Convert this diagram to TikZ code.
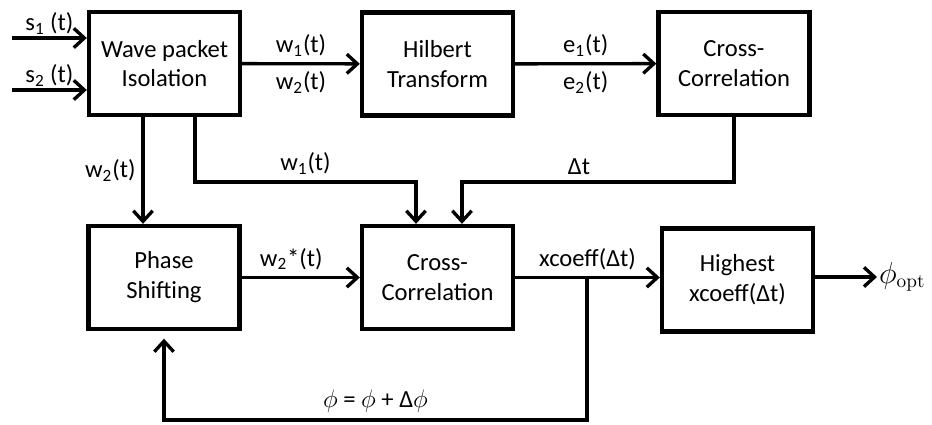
\documentclass[tikz,border=0pt]{standalone}
\usepackage[no-math]{fontspec}
\setmainfont{Carlito}
\usetikzlibrary{positioning, calc, arrows.meta}

\tikzset{
  block/.style={draw, line width=2.5pt, minimum width=3.02cm, minimum height=2.06cm,
    align=center, font=\fontsize{14}{17}\selectfont},
  flow/.style={-{Straight Barb[length=6pt,width=11pt,line width=1.9pt]}, line width=1.9pt},
  lbl/.style={font=\fontsize{14}{17}\selectfont},
}

\begin{document}
\begin{tikzpicture}[every node/.append style={lbl}]
    \useasboundingbox (0,0) rectangle (18.64,8.48);
    % blocks
    \node[block] (wp) at (3.29,7.21) {Wave packet\\Isolation};
    \node[block] (hil) at (8.75,7.2) {Hilbert\\Transform};
    \node[block] (cct) at (14.68,7.21) {Cross-\\Correlation};
    \node[block] (ph) at (3.28,2.93) {Phase\\Shifting};
    \node[block] (ccb) at (8.75,2.93) {Cross-\\Correlation};
    \node[block] (hi) at (14.75,2.88) {Highest\\xcoeff(Δt)};
    \node[right, inner sep=1pt, font=\fontsize{16}{18}\selectfont] (phiopt) at (17.54,2.94) {$\phi_{\mathrm{opt}}$};
    % helper points
    \coordinate (s1) at (0.24,7.72);
    \coordinate (s2) at (0.24,6.68);
    \coordinate (w2x) at (2.86,5);
    \coordinate (w1b) at (3.9,4.84);
    \coordinate (w1in) at (8.32,4.84);
    \coordinate (dtin) at (9.24,4.84);
    \coordinate (fb) at (11.74,0.08);
    % connectors
    \draw[flow] (s1) -- node[above, inner sep=1pt] {s\textsubscript{1} (t)} (s1 -| wp.west);
    \draw[flow] (s2) -- node[above, inner sep=1pt] {s\textsubscript{2} (t)} (s2 -| wp.west);
    \draw[flow] (wp) -- node[above] {w\textsubscript{1}(t)} node[below] {w\textsubscript{2}(t)} (hil);
    \draw[flow] (hil) -- node[above] {e\textsubscript{1}(t)} node[below] {e\textsubscript{2}(t)} (cct);
    \draw[flow] (wp.south -| w2x) -- node[left] {w\textsubscript{2}(t)} (ph.north -| w2x);
    \draw[flow] (wp.south -| w1b) -- (w1b) -- node[above] {w\textsubscript{1}(t)} (w1in) -- (w1in |- ccb.north);
    \draw[flow] (cct.south) -- (cct.south |- dtin) -- node[above, pos=0.57] {Δt} (dtin) -- (dtin |- ccb.north);
    \draw[flow] (ph) -- node[above, pos=0.42] {w\textsubscript{2}*(t)} (ccb);
    \draw[flow] (ccb.east) -- node[above] {xcoeff(Δt)} (ccb.east -| hi.west);
    \draw[flow] (hi.east |- phiopt) -- (phiopt);
    \draw[flow, shorten >=0.15cm] (ccb.east -| fb) -- (fb) -- node[above] {$\phi$ = $\phi$ + Δ$\phi$} (fb -| ph.south) -- (ph.south);
\end{tikzpicture}
\end{document}
